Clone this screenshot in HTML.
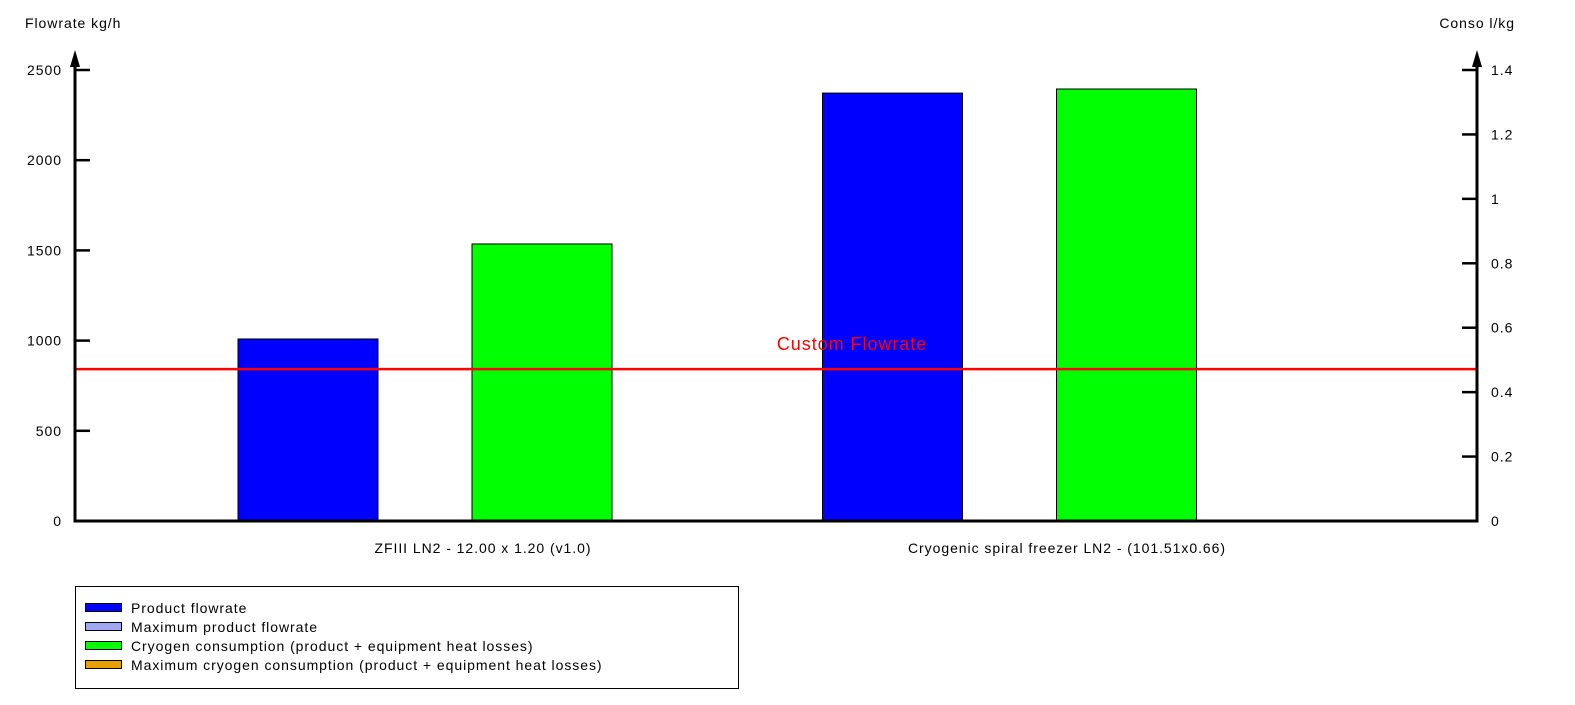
<!DOCTYPE html>
<html><head><meta charset="utf-8"><style>
body{margin:0;background:#fff;}
svg text{font-family:"Liberation Sans",sans-serif;font-size:14px;fill:#000;letter-spacing:0.95px;}
</style></head><body>
<svg id="chart" width="1575" height="700" xmlns="http://www.w3.org/2000/svg">
<g id="g"></g>
</svg>
<script>
const categories=["ZFIII LN2 - 12.00 x 1.20 (v1.0)","Cryogenic spiral freezer LN2 - (101.51x0.66)"];
const productFlow=[1009,2372];
const cryoConso=[0.86,1.341];
const customFlowrate=842;
const leftTicks=[0,500,1000,1500,2000,2500];
const rightTicks=[0,0.2,0.4,0.6,0.8,1,1.2,1.4];
const legendLabels=["Product flowrate","Maximum product flowrate","Cryogen consumption (product + equipment heat losses)","Maximum cryogen consumption (product + equipment heat losses)"];
const legendColors=["#0000ff","#a0a8f0","#00ff00","#e8a000"];

const NS="http://www.w3.org/2000/svg";
const g=document.getElementById('g');
const X0=75,X1=1477,Y0=521,YT=70;
const yL=v=>Y0-(v/2500)*(Y0-YT);
const yR=v=>Y0-(v/1.4)*(Y0-YT);
function el(t,a,txt){const e=document.createElementNS(NS,t);for(const k in a)e.setAttribute(k,a[k]);if(txt!==undefined)e.textContent=txt;g.appendChild(e);return e;}

categories.forEach((c,i)=>{
  const b=el('rect',{x:X0+163+i*584.5,y:yL(productFlow[i]),width:140,height:Y0-yL(productFlow[i]),fill:'#0000ff',stroke:'#000','stroke-width':1});
  
  
  const gb=el('rect',{x:X0+397+i*584.5,y:yR(cryoConso[i]),width:140,height:Y0-yR(cryoConso[i]),fill:'#00ff00',stroke:'#000','stroke-width':1});
  
  
  const t=el('text',{x:i?1067:483,y:553,'text-anchor':'middle'},c);
  
  
});

const rl=el('line',{x1:X0,x2:X1,y1:yL(customFlowrate),y2:yL(customFlowrate),stroke:'#ff0000','stroke-width':2.5});


const rt=el('text',{x:852,y:yL(customFlowrate)-19,'text-anchor':'middle',style:'fill:#ff0000;font-size:18px'},'Custom Flowrate');



const ax=el('path',{d:`M${X0},${Y0}V56M${X1},${Y0}V56M${X0-1.5},${Y0}H${X1+1.5}`,stroke:'#000','stroke-width':3,fill:'none'});


el('path',{d:`M${X0-5},67L${X0},50L${X0+5},67Z M${X1-5},67L${X1},50L${X1+5},67Z`,fill:'#000'});
leftTicks.forEach(v=>{
  el('line',{x1:X0,x2:X0+15,y1:yL(v),y2:yL(v),stroke:'#000','stroke-width':2.5});
  const t=el('text',{x:62,y:yL(v)+5,'text-anchor':'end'},String(v));
  
  
});
rightTicks.forEach(v=>{
  el('line',{x1:X1-15,x2:X1,y1:yR(v),y2:yR(v),stroke:'#000','stroke-width':2.5});
  const t=el('text',{x:1491,y:yR(v)+5},String(v));
  
  
});
const lt=el('text',{x:25,y:28},'Flowrate kg/h');


const rtt=el('text',{x:1515,y:28,'text-anchor':'end'},'Conso l/kg');



const lb=el('rect',{x:75.5,y:586.5,width:663,height:102,fill:'#fff',stroke:'#000','stroke-width':1});


legendLabels.forEach((l,i)=>{
  const y=608+i*19;
  el('rect',{x:85.5,y:y-4.5,width:36,height:8,fill:legendColors[i],stroke:'#000','stroke-width':1});
  const t=el('text',{x:131,y:y+5},l);
  
  
});
</script>
</body></html>
